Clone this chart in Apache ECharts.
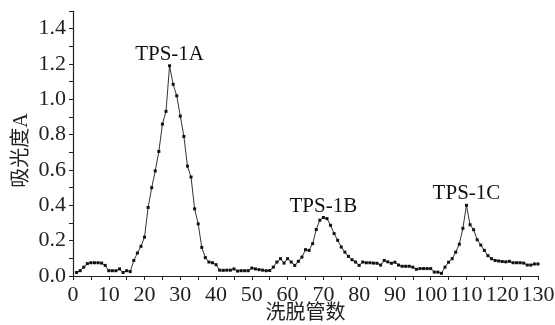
<!DOCTYPE html>
<html><head><meta charset="utf-8">
<script src="https://cdn.jsdelivr.net/npm/echarts@6/dist/echarts.min.js"></script>
<style>html,body{margin:0;padding:0;background:#fff}#c{width:555px;height:325px}</style>
</head><body><div id="c"></div>
<script>
// tube numbers 1..130
const tubes = [];
for (let i = 1; i <= 130; i++) tubes.push(i);
const absorbance = [
  0.020,0.030,0.050,0.070,0.075,0.075,0.075,0.073,0.060,0.030, // 1-10
  0.030,0.030,0.040,0.020,0.030,0.025,0.088,0.130,0.168,0.220, // 11-20
  0.388,0.500,0.595,0.705,0.860,0.932,1.190,1.085,1.020,0.905, // 21-30
  0.790,0.622,0.560,0.380,0.295,0.162,0.104,0.079,0.075,0.064, // 31-40
  0.033,0.032,0.033,0.033,0.040,0.028,0.030,0.030,0.030,0.045, // 41-50
  0.040,0.036,0.033,0.030,0.031,0.050,0.079,0.098,0.073,0.098, // 51-60
  0.079,0.060,0.083,0.107,0.149,0.145,0.183,0.263,0.316,0.331, // 61-70
  0.325,0.287,0.240,0.202,0.164,0.135,0.111,0.092,0.079,0.060, // 71-80
  0.079,0.075,0.075,0.073,0.072,0.062,0.088,0.080,0.072,0.078, // 81-90
  0.062,0.055,0.055,0.055,0.050,0.038,0.042,0.042,0.042,0.042, // 91-100
  0.022,0.022,0.015,0.050,0.078,0.098,0.135,0.180,0.270,0.400, // 101-110
  0.290,0.262,0.205,0.175,0.145,0.115,0.098,0.088,0.085,0.082, // 111-120
  0.080,0.083,0.075,0.075,0.075,0.073,0.062,0.062,0.068,0.068  // 121-130
];
const peakNames = ['TPS-1A', 'TPS-1B', 'TPS-1C'];
const peakTubes = [27, 70, 110];
const xTitle = '洗脱管数';
const yTitle = '吸光度A';

const serif = '"Liberation Serif","Noto Sans CJK SC",serif';
const chart = echarts.init(document.getElementById('c'), null, {renderer: 'canvas'});
const seriesData = tubes.map((t, i) => [t, absorbance[i]]);
chart.setOption({
  animation: false,
  backgroundColor: '#fff',
  grid: {left: 73, right: 17, top: 11, bottom: 49, containLabel: false, outerBoundsMode: 'none'},
  xAxis: {
    type: 'value', min: 0, max: 130, interval: 5,
    name: xTitle, nameLocation: 'middle', nameGap: 28, nameMoveOverlap: false,
    nameTextStyle: {fontFamily: serif, fontSize: 20, color: '#222'},
    axisLine: {show: true, lineStyle: {color: '#222', width: 1.2}},
    axisTick: {show: true, inside: false, length: 4, lineStyle: {color: '#222'}},
    splitLine: {show: false},
    axisLabel: {
      margin: 8, fontFamily: serif, fontSize: 22, color: '#222',
      formatter: v => (Math.round(v) % 10 === 0 ? String(Math.round(v)) : '')
    }
  },
  yAxis: {
    type: 'value', min: 0, max: 1.5, interval: 0.1,
    name: yTitle, nameLocation: 'middle', nameGap: 41, nameMoveOverlap: false,
    nameTextStyle: {fontFamily: serif, fontSize: 20, color: '#222', padding: [0, 14, 0, 0]},
    axisLine: {show: true, lineStyle: {color: '#222', width: 1.2}},
    axisTick: {show: true, inside: false, length: 4, lineStyle: {color: '#222'}},
    splitLine: {show: false},
    axisLabel: {
      margin: 7, fontFamily: serif, fontSize: 22, color: '#222',
      formatter: v => {
        const k = Math.round(v * 10);
        return (k % 2 === 0 && k <= 14) ? (k / 10).toFixed(1) : '';
      }
    }
  },
  series: [{
    type: 'line',
    data: seriesData,
    symbol: 'rect', symbolSize: 3,
    lineStyle: {color: '#333', width: 1},
    itemStyle: {color: '#111'},
    markPoint: {
      symbol: 'rect', symbolSize: 0,
      label: {show: true, position: 'top', distance: 1, fontFamily: serif, fontSize: 21, color: '#111',
        formatter: p => p.name},
      data: peakNames.map((n, i) => ({name: n, coord: [peakTubes[i], absorbance[peakTubes[i] - 1]]}))
    }
  }]
});
</script></body></html>
